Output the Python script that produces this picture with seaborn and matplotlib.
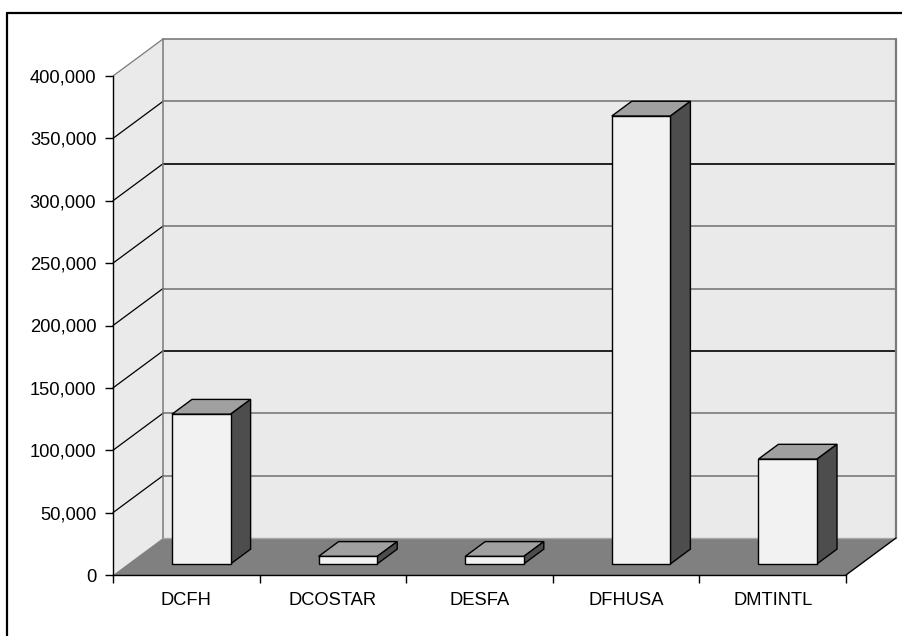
import matplotlib
matplotlib.use("Agg")
import matplotlib.pyplot as plt
import matplotlib.transforms as mtransforms
from matplotlib.patches import Polygon
from matplotlib.lines import Line2D
from matplotlib.ticker import FuncFormatter, FixedLocator
import seaborn as sns
import pandas as pd

# ---- data ----
categories = ["DCFH", "DCOSTAR", "DESFA", "DFHUSA", "DMTINTL"]
values = [120000, 6000, 6000, 359000, 84000]
y_ticks = [0, 50000, 100000, 150000, 200000, 250000, 300000, 350000, 400000]

# ---- pseudo-3D projection settings (depth expressed in data units) ----
DX = 0.341      # horizontal shift of the back plane, in category units
DY = 29650.0    # vertical shift of the back plane, in value units
BAR_Z0, BAR_Z1 = 0.3, 0.7   # depth span of each bar
BAR_W = 0.4

WALL = "#EAEAEA"
FLOOR = "#808080"
FRONT = "#F2F2F2"
TOP = "#A0A0A0"
SIDE = "#4D4D4D"
EDGE_GRAY = "#7A7A7A"
LABEL_SIZE = 13.2


def proj(x, y, z):
    return (x + z * DX, y + z * DY)


sns.set_style("white")
plt.rcParams["font.family"] = ["Liberation Sans", "DejaVu Sans"]

fig = plt.figure(figsize=(9.02, 6.36), dpi=100)
ax = fig.add_axes([113 / 902, 61 / 636, 733 / 902, 499 / 636])
ax.patch.set_visible(False)

df = pd.DataFrame({"category": categories, "value": values})
sns.barplot(data=df, x="category", y="value", width=BAR_W, color=FRONT,
            saturation=1, edgecolor="black", linewidth=1.0, ax=ax, zorder=5)

x0, x1 = -0.5, len(categories) - 0.5
ymax = y_ticks[-1]
ax.set_xlim(x0, x1)
ax.set_ylim(0, ymax)

# back wall
ax.add_patch(Polygon([proj(x0, 0, 1), proj(x1, 0, 1), proj(x1, ymax, 1), proj(x0, ymax, 1)],
                     closed=True, fc=WALL, ec="none", clip_on=False, zorder=0))
# left wall
ax.add_patch(Polygon([proj(x0, 0, 0), proj(x0, ymax, 0), proj(x0, ymax, 1), proj(x0, 0, 1)],
                     closed=True, fc=WALL, ec="none", clip_on=False, zorder=0))
# floor
ax.add_patch(Polygon([proj(x0, 0, 0), proj(x1, 0, 0), proj(x1, 0, 1), proj(x0, 0, 1)],
                     closed=True, fc=FLOOR, ec="none", clip_on=False, zorder=0.5))

# gridlines on back wall and left wall
grid_colors = {50000: EDGE_GRAY, 100000: EDGE_GRAY, 150000: "black", 200000: EDGE_GRAY,
               250000: EDGE_GRAY, 300000: "black", 350000: EDGE_GRAY, 400000: EDGE_GRAY}
for v in y_ticks[1:]:
    (bx0, by), (bx1, _) = proj(x0, v, 1), proj(x1, v, 1)
    ax.plot([bx0, bx1], [by, by], color=grid_colors[v], lw=1.2, clip_on=False, zorder=1)
    fx, fy = proj(x0, v, 0)
    ax.plot([fx, bx0], [fy, by], color=EDGE_GRAY if v == ymax else "black",
            lw=0.9, clip_on=False, zorder=1)

# wall edges
bl = proj(x0, 0, 1); tl = proj(x0, ymax, 1)
br = proj(x1, 0, 1); tr = proj(x1, ymax, 1)
ax.plot([bl[0], tl[0]], [bl[1], tl[1]], color=EDGE_GRAY, lw=1.1, clip_on=False, zorder=1)
ax.plot([br[0], tr[0]], [br[1], tr[1]], color=EDGE_GRAY, lw=1.6, clip_on=False, zorder=1)
ax.plot([bl[0], br[0]], [bl[1], br[1]], color="#A8A8A8", lw=1.0, clip_on=False, zorder=1)
fr = proj(x1, 0, 0)
ax.plot([fr[0], br[0]], [fr[1], br[1]], color="black", lw=1.0, clip_on=False, zorder=1)

# push bar fronts into their depth plane and add top and side faces
shift = mtransforms.Affine2D().translate(BAR_Z0 * DX, BAR_Z0 * DY)
for patch, v in zip(ax.patches[:len(values)], values):
    patch.set_transform(shift + ax.transData)
    patch.set_clip_on(False)
    left = patch.get_x()
    right = left + patch.get_width()
    top = [proj(left, v, BAR_Z0), proj(right, v, BAR_Z0),
           proj(right, v, BAR_Z1), proj(left, v, BAR_Z1)]
    side = [proj(right, 0, BAR_Z0), proj(right, v, BAR_Z0),
            proj(right, v, BAR_Z1), proj(right, 0, BAR_Z1)]
    ax.add_patch(Polygon(top, closed=True, fc=TOP, ec="black", lw=1.0, clip_on=False, zorder=4))
    ax.add_patch(Polygon(side, closed=True, fc=SIDE, ec="black", lw=1.0, clip_on=False, zorder=4))

# axes styling
for name in ["top", "right"]:
    ax.spines[name].set_visible(False)
for name in ["left", "bottom"]:
    ax.spines[name].set_color("black")
    ax.spines[name].set_linewidth(1.0)
    ax.spines[name].set_zorder(6)

ax.set_xlabel("")
ax.set_ylabel("")
ax.set_yticks(y_ticks)
ax.yaxis.set_major_formatter(FuncFormatter(lambda v, _: f"{v:,.0f}"))
ax.tick_params(axis="y", direction="out", length=6, width=1, pad=6,
               labelsize=LABEL_SIZE, colors="black", left=True)

ax.xaxis.set_major_locator(FixedLocator([i - 0.5 for i in range(len(categories) + 1)]))
ax.xaxis.set_minor_locator(FixedLocator(list(range(len(categories)))))
ax.set_xticklabels([], minor=False)
ax.set_xticklabels(categories, minor=True)
ax.tick_params(axis="x", which="major", direction="out", length=6, width=1,
               colors="black", bottom=True)
ax.tick_params(axis="x", which="minor", length=0, pad=12, labelsize=LABEL_SIZE,
               labelcolor="black", bottom=True)

# chart frame
fig.add_artist(Line2D([7.5 / 902, 7.5 / 902], [0, 1 - 12.5 / 636],
                      transform=fig.transFigure, color="black", lw=1.6))
fig.add_artist(Line2D([7.5 / 902, 1], [1 - 12.5 / 636, 1 - 12.5 / 636],
                      transform=fig.transFigure, color="black", lw=1.6))

fig.savefig("out.png", dpi=100, facecolor="white")
